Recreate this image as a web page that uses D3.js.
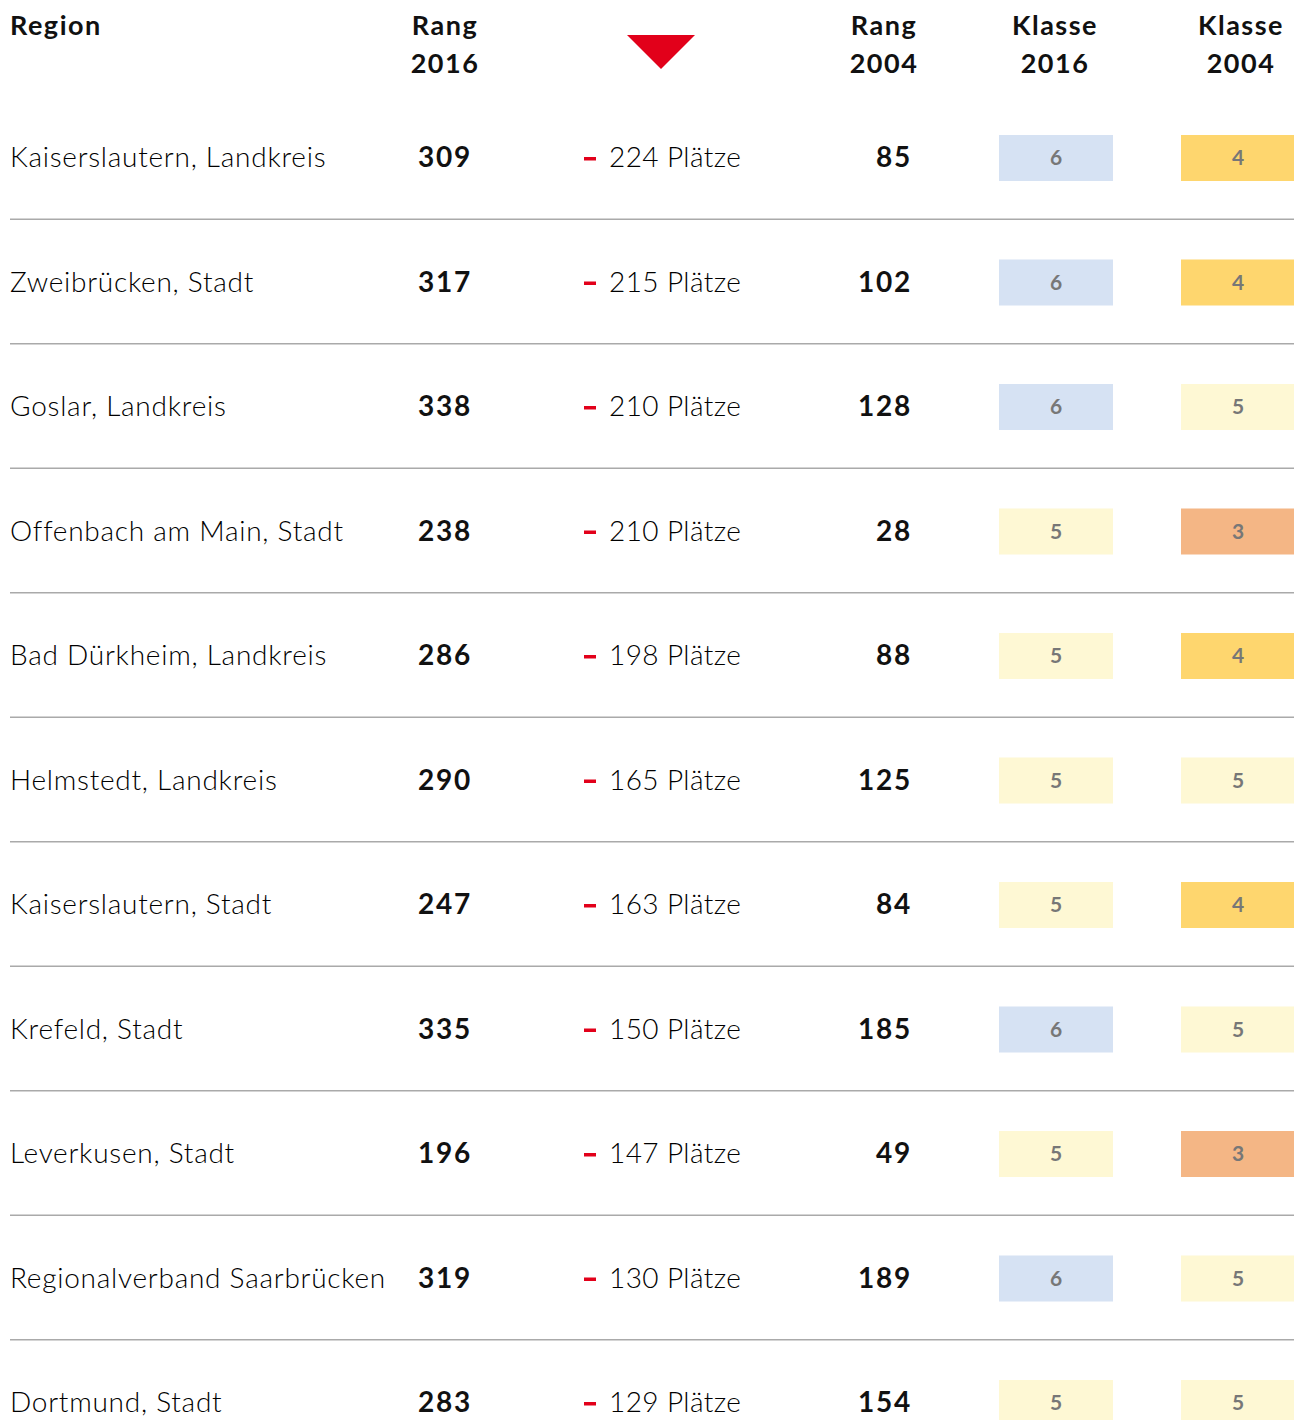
<!DOCTYPE html>
<html><head><meta charset="utf-8">
<script src="https://cdn.jsdelivr.net/npm/d3@7"></script>
<style>body{margin:0;background:#fff}</style>
</head><body>
<svg id="c" width="1294" height="1420"></svg>
<script>
const regions = ["Kaiserslautern, Landkreis","Zweibrücken, Stadt","Goslar, Landkreis","Offenbach am Main, Stadt","Bad Dürkheim, Landkreis","Helmstedt, Landkreis","Kaiserslautern, Stadt","Krefeld, Stadt","Leverkusen, Stadt","Regionalverband Saarbrücken","Dortmund, Stadt"];
const rang2016 = [309,317,338,238,286,290,247,335,196,319,283];
const rang2004 = [85,102,128,28,88,125,84,185,49,189,154];
const klasse2016 = [6,6,6,5,5,5,5,6,5,6,5];
const klasse2004 = [4,4,5,3,4,5,4,5,3,5,5];
const headers = [["Rang","2016"],["Rang","2004"],["Klasse","2016"],["Klasse","2004"]];
const classColors = {3:"#f4b685",4:"#fed66e",5:"#fef8d4",6:"#d6e2f3"};

const svg = d3.select("#c");
const FONT = "Lato, 'Open Sans', sans-serif";
const y = d3.scalePoint().domain(d3.range(regions.length)).range([157,1402]);
const step = y.step();

// header
svg.append("text").attr("x",10).attr("y",35).attr("font-family",FONT).attr("font-weight",700).attr("font-size",27).attr("letter-spacing",1.5).attr("fill","#111").text("Region");
const hx = [445,884,1055,1241];
headers.forEach((h,i)=>{
  h.forEach((t,j)=>{
    svg.append("text").attr("x",hx[i]).attr("y",35+j*38).attr("text-anchor","middle")
      .attr("font-family",FONT).attr("font-weight",700).attr("font-size",27).attr("letter-spacing",1.5).attr("fill","#111").text(t);
  });
});
svg.append("path").attr("d","M627,35 L695,35 L661,69 Z").attr("fill","#e2001a");

// separators
svg.selectAll("line.sep").data(d3.range(regions.length-1)).join("line")
  .attr("x1",10).attr("x2",1294).attr("y1",i=>y(i)+step/2).attr("y2",i=>y(i)+step/2)
  .attr("stroke","#aaa").attr("stroke-width",1.5);

const rows = svg.selectAll("g.row").data(regions.map((r,i)=>({r,i}))).join("g").attr("class","row")
  .attr("transform",d=>`translate(0,${y(d.i)})`);

rows.append("text").attr("x",10).attr("y",10).attr("font-family",FONT).attr("font-weight",300).attr("font-size",28).attr("letter-spacing",0.75).attr("fill","#000").text(d=>d.r);
rows.append("text").attr("x",445).attr("y",10).attr("text-anchor","middle").attr("font-family",FONT).attr("font-weight",700).attr("font-size",28).attr("letter-spacing",1.8).attr("fill","#111").text(d=>rang2016[d.i]);
rows.append("rect").attr("x",584).attr("y",0).attr("width",12).attr("height",3.5).attr("fill","#e2001a");
rows.append("text").attr("x",609).attr("y",10).attr("font-family",FONT).attr("font-weight",300).attr("font-size",28).attr("letter-spacing",0.4).attr("fill","#000").text(d=>(rang2016[d.i]-rang2004[d.i])+" Plätze");
rows.append("text").attr("x",912).attr("y",10).attr("text-anchor","end").attr("font-family",FONT).attr("font-weight",700).attr("font-size",28).attr("letter-spacing",1.8).attr("fill","#111").text(d=>rang2004[d.i]);

[[999,klasse2016],[1181,klasse2004]].forEach(([bx,arr])=>{
  rows.append("rect").attr("x",bx).attr("y",-22).attr("width",114).attr("height",46).attr("fill",d=>classColors[arr[d.i]]);
  rows.append("text").attr("x",bx+57).attr("y",8).attr("text-anchor","middle").attr("font-family",FONT).attr("font-weight",700).attr("font-size",21).attr("fill","#777").text(d=>arr[d.i]);
});
</script>
</body></html>
